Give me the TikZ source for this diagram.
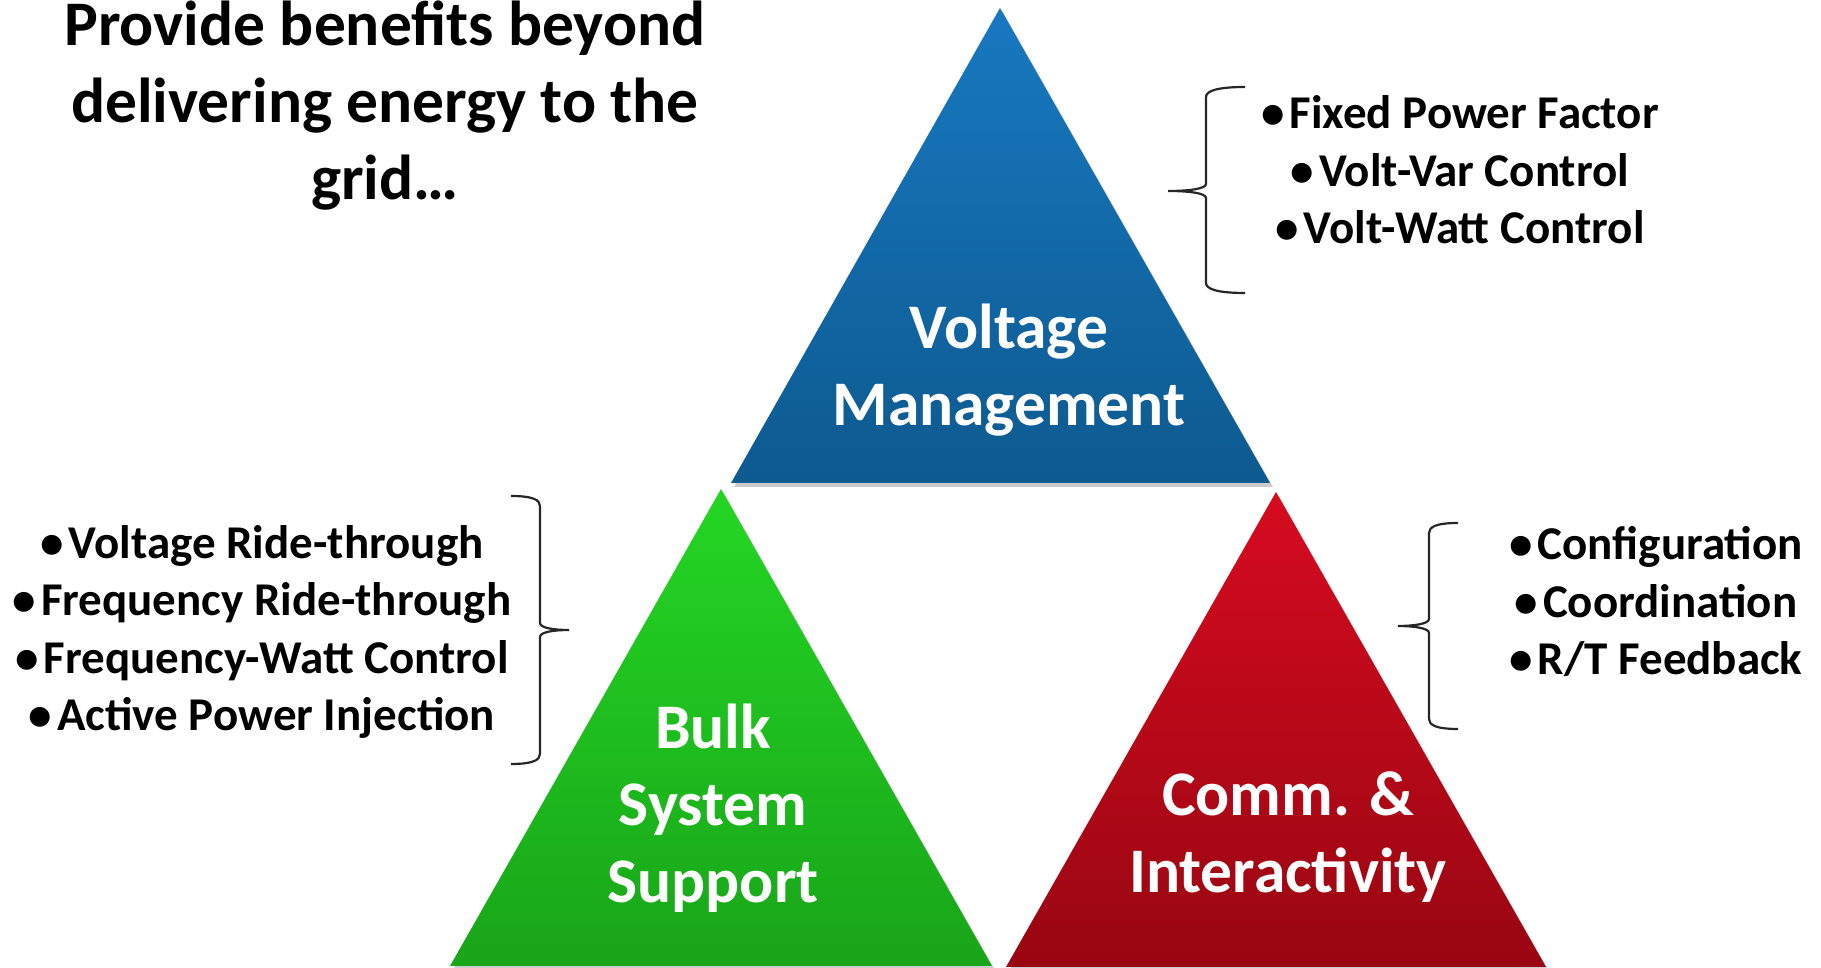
\documentclass[tikz,border=0pt]{standalone}
\usepackage{fontspec}
\setmainfont{Carlito}
\definecolor{vmtop}{HTML}{1878C0}
\definecolor{vmbot}{HTML}{0D5A8F}
\definecolor{bsstop}{HTML}{24D624}
\definecolor{bssbot}{HTML}{19A519}
\definecolor{citop}{HTML}{D60B20}
\definecolor{cibot}{HTML}{980612}
\newcommand{\dotitem}{•\kern5pt}

\begin{document}
\begin{tikzpicture}[x=1pt, y=1pt,
  big/.style={text=white, font=\fontsize{63.5}{77}\selectfont\bfseries, align=center},
  heading/.style={text=black, font=\fontsize{63.5}{77}\selectfont\bfseries, align=center},
  items/.style={text=black, font=\fontsize{47}{57.5}\selectfont\bfseries, align=center},
  curly/.style={line width=2.2pt, black!85}]
\useasboundingbox (0,0) rectangle (1821,968);

% triangles
\fill[black, opacity=0.2] (734,481) -- (1003,956) -- (1273,481) -- cycle;
\shade[top color=vmtop, bottom color=vmbot] (731,485) -- (1000,960) -- (1270,485) -- cycle;
\fill[black, opacity=0.2] (453,-2) -- (724,475) -- (995,-2) -- cycle;
\shade[top color=bsstop, bottom color=bssbot] (450,2) -- (721,479) -- (992,2) -- cycle;
\fill[black, opacity=0.2] (1009,-3) -- (1279,472) -- (1549,-3) -- cycle;
\shade[top color=citop, bottom color=cibot] (1006,1) -- (1276,476) -- (1546,1) -- cycle;

\draw
(1009,598) node[big](vm){Voltage\\Management}
(713,160) node[big](bss){Bulk\\System\\Support}
(1288,131) node[big](ci){Comm. \&\\Interactivity}
(385,862) node[heading](goal){Provide benefits beyond\\delivering energy to the\\grid…};

\draw
(1460,798) node[items](vmlist){\dotitem Fixed Power Factor\\\dotitem Volt-Var Control\\\dotitem Volt-Watt Control}
(262,336) node[items](bsslist){\dotitem Voltage Ride-through\\\dotitem Frequency Ride-through\\\dotitem Frequency-Watt Control\\\dotitem Active Power Injection}
(1656,366) node[items](cilist){\dotitem Configuration\\\dotitem Coordination\\\dotitem R/T Feedback};

% braces
\coordinate (vmhigh) at (1245,881);
\coordinate (bsshigh) at (511,472);
\coordinate (cihigh) at (1458,445);

\draw[curly] (vmhigh) .. controls +(-28,0) and +(0,6) .. ++(-39,-10) -- ++(0,-87)
  .. controls +(0,-5) and +(20,0) .. ++(-38,-7) .. controls +(20,0) and +(0,5) .. ++(38,-7)
  -- ++(0,-85) .. controls +(0,-6) and +(-28,0) .. ++(39,-10);
\draw[curly] (bsshigh) .. controls +(22,0) and +(0,6) .. ++(29,-10) -- ++(0,-117)
  .. controls +(0,-5) and +(-15,0) .. ++(29,-7) .. controls +(-15,0) and +(0,5) .. ++(-29,-7)
  -- ++(0,-117) .. controls +(0,-6) and +(22,0) .. ++(-29,-10);
\draw[curly] (cihigh) .. controls +(-22,0) and +(0,6) .. ++(-29,-10) -- ++(0,-86)
  .. controls +(0,-5) and +(15,0) .. ++(-31,-7) .. controls +(15,0) and +(0,5) .. ++(31,-7)
  -- ++(0,-86) .. controls +(0,-6) and +(-22,0) .. ++(29,-10);

\end{tikzpicture}
\end{document}
